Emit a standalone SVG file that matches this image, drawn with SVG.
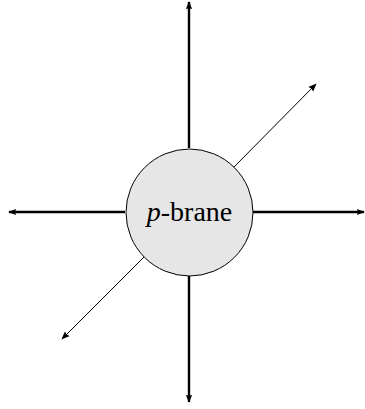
<svg xmlns="http://www.w3.org/2000/svg" width="365" height="409" viewBox="0 0 365 409">
<style>
.thick{stroke:#000;stroke-width:2.4;fill:none}
.thin{stroke:#000;stroke-width:1;fill:none}
.lbl{font-family:"Liberation Serif","DejaVu Serif",serif;font-size:28px;fill:#000}
</style>
<defs>
<marker id="ah" viewBox="0 0 10 10" refX="9" refY="5" markerWidth="3.3" markerHeight="3.3" orient="auto" markerUnits="strokeWidth">
<path d="M0,1 L10,5 L0,9 L1.5,5 Z" fill="#000"/>
</marker>
<marker id="ahs" viewBox="0 0 10 10" refX="9" refY="5" markerWidth="8.5" markerHeight="8.5" orient="auto" markerUnits="strokeWidth">
<path d="M0,1 L10,5 L0,9 L1.5,5 Z" fill="#000"/>
</marker>
</defs>
<g id="connectors">
<line class="thick" x1="189" y1="148" x2="189" y2="2" marker-end="url(#ah)"/>
<line class="thick" x1="189" y1="276" x2="189" y2="402" marker-end="url(#ah)"/>
<line class="thick" x1="125" y1="212" x2="9" y2="212" marker-end="url(#ah)"/>
<line class="thick" x1="253" y1="212" x2="364" y2="212" marker-end="url(#ah)"/>
<line class="thin" x1="234" y1="167" x2="316" y2="84" marker-end="url(#ahs)"/>
<line class="thin" x1="144" y1="257" x2="62" y2="339" marker-end="url(#ahs)"/>
</g>
<g id="brane">
<circle cx="189.5" cy="212.5" r="63.5" fill="#e6e6e6" stroke="#000" stroke-width="1"/>
<text class="lbl" x="189.5" y="220.5" text-anchor="middle"><tspan font-style="italic">p</tspan>-brane</text>
</g>
</svg>
